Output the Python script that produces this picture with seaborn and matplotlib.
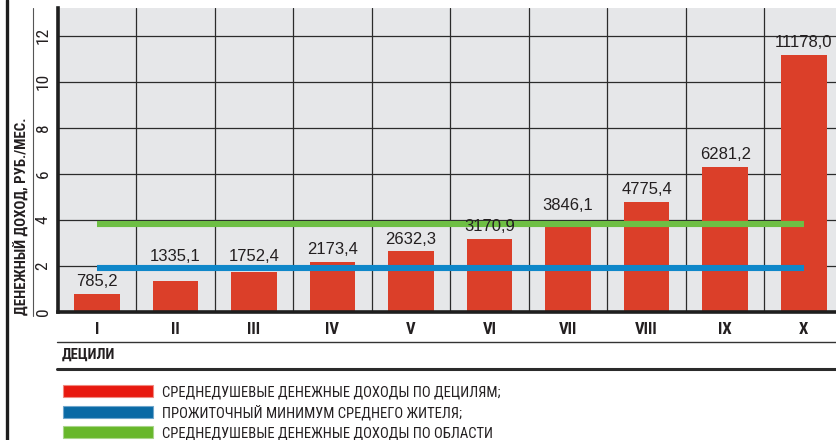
import numpy as np
import pandas as pd
import matplotlib
matplotlib.use("Agg")
import matplotlib.pyplot as plt
from matplotlib.patches import Patch
from matplotlib.lines import Line2D
import seaborn as sns

# данные (руб./мес.)
decili = ['I', 'II', 'III', 'IV', 'V', 'VI', 'VII', 'VIII', 'IX', 'X']
dohod = [785.2, 1335.1, 1752.4, 2173.4, 2632.3, 3170.9, 3846.1, 4775.4, 6281.2, 11178.0]
prozh_min = 1910.0
dohod_oblast = 3830.0

legend_labels = ['СРЕДНЕДУШЕВЫЕ ДЕНЕЖНЫЕ ДОХОДЫ ПО ДЕЦИЛЯМ;',
                 'ПРОЖИТОЧНЫЙ МИНИМУМ СРЕДНЕГО ЖИТЕЛЯ;',
                 'СРЕДНЕДУШЕВЫЕ ДЕНЕЖНЫЕ ДОХОДЫ ПО ОБЛАСТИ']

NARROW = ['Roboto Condensed', 'Liberation Sans Narrow', 'Roboto', 'DejaVu Sans']
REG = ['Liberation Sans', 'DejaVu Sans']

sns.set_style('white')
plt.rcParams['font.family'] = NARROW

df = pd.DataFrame({'decil': decili, 'dohod': np.array(dohod) / 1000})

W, H = 836, 440
fig = plt.figure(figsize=(W / 100, H / 100), dpi=100)
ax = fig.add_axes([57.5 / W, (H - 312) / H, (843 - 57.5) / W, (312 - 8) / H])
ax.set_facecolor('#e6e7e9')

sns.barplot(data=df, x='decil', y='dohod', color='#db3f29', width=0.58,
            saturation=1, linewidth=0, ax=ax, zorder=2)

lines = [prozh_min / 1000, dohod_oblast / 1000]
ax.hlines(lines[0], 0, len(decili) - 1, color='#0f87c9', lw=4.4,
          zorder=3, capstyle='butt')
ax.hlines(lines[1], 0, len(decili) - 1, color='#6ebf44', lw=4.4,
          zorder=3, capstyle='butt')

# подписи над столбцами (поднимаем над линией, если мешает)
for i, v in enumerate(dohod):
    top = v / 1000
    pos, off = top, 3.5
    for ln in lines:
        if abs(top - ln) < 0.14:
            off = 7.5
        elif 0 < ln - top < 0.62:
            pos, off = ln + 0.17, 0
    ax.annotate(f'{v:.1f}'.replace('.', ','), (i, pos), xytext=(0, off),
                textcoords='offset points', ha='center', va='bottom',
                fontsize=12, family=REG, color='#231f20', zorder=5)

ax.set_xlim(-0.5, len(decili) - 0.5)
ax.set_ylim(0, 13.2)
ax.set_yticks(range(0, 13, 2))
ax.set_yticklabels([str(t) for t in range(0, 13, 2)], rotation=90, va='center',
                   fontsize=12.5, color='#231f20')
ax.set_xticks(np.arange(len(decili)) + 0.5, minor=True)
ax.tick_params(axis='x', which='major', length=0, pad=7, labelsize=12,
               labelcolor='#231f20')
ax.tick_params(axis='y', length=0, pad=5)
ax.tick_params(which='minor', length=0)
for lab in ax.get_xticklabels():
    lab.set_fontweight('bold')
ax.set_xlabel('')
ax.set_ylabel('')

ax.grid(True, axis='y', which='major', color='#2b2b2b', lw=0.9, zorder=0)
ax.grid(True, axis='x', which='minor', color='#2b2b2b', lw=0.9, zorder=0)
ax.grid(False, axis='x', which='major')
ax.set_axisbelow(True)

for s in ['top', 'right']:
    ax.spines[s].set_visible(False)
ax.spines['left'].set_linewidth(2.6)
ax.spines['bottom'].set_linewidth(2.6)
ax.spines['left'].set_color('#1e1e1e')
ax.spines['bottom'].set_color('#1e1e1e')

# оформление вокруг графика
fig.add_artist(Line2D([7 / W, 7 / W], [0, 1], color='#1e1e1e', lw=2.4))
fig.add_artist(Line2D([33 / W, 33 / W], [1 - 8 / H, 1 - 316 / H],
                      color='#555555', lw=0.8))
fig.add_artist(Line2D([57 / W, 1], [1 - 342 / H, 1 - 342 / H],
                      color='#333333', lw=1.0))
fig.add_artist(Line2D([57 / W, 1], [1 - 369 / H, 1 - 369 / H],
                      color='#2b2b2b', lw=2.2))

fig.text(22 / W, 1 - 315 / H, 'ДЕНЕЖНЫЙ ДОХОД, РУБ./МЕС.', rotation=90,
         ha='center', va='bottom', fontsize=10.7, fontweight='bold',
         color='#231f20')
fig.text(62 / W, 1 - 355 / H, 'ДЕЦИЛИ', ha='left', va='center',
         fontsize=10.5, fontweight='bold', color='#231f20')

handles = [Patch(facecolor=c, edgecolor=e, lw=0.8) for c, e in
           [('#e8190f', '#f08a80'), ('#0a6aa5', '#6fa6cc'), ('#67b72a', '#a8d58a')]]
fig.legend(handles, legend_labels, loc='upper left',
           bbox_to_anchor=(63 / W, 1 - 385 / H), borderaxespad=0, borderpad=0,
           frameon=False, fontsize=10.5, handlelength=6.2, handleheight=0.9,
           labelspacing=0.4, handletextpad=0.6, labelcolor='#231f20')

fig.savefig('out.png', dpi=100)
